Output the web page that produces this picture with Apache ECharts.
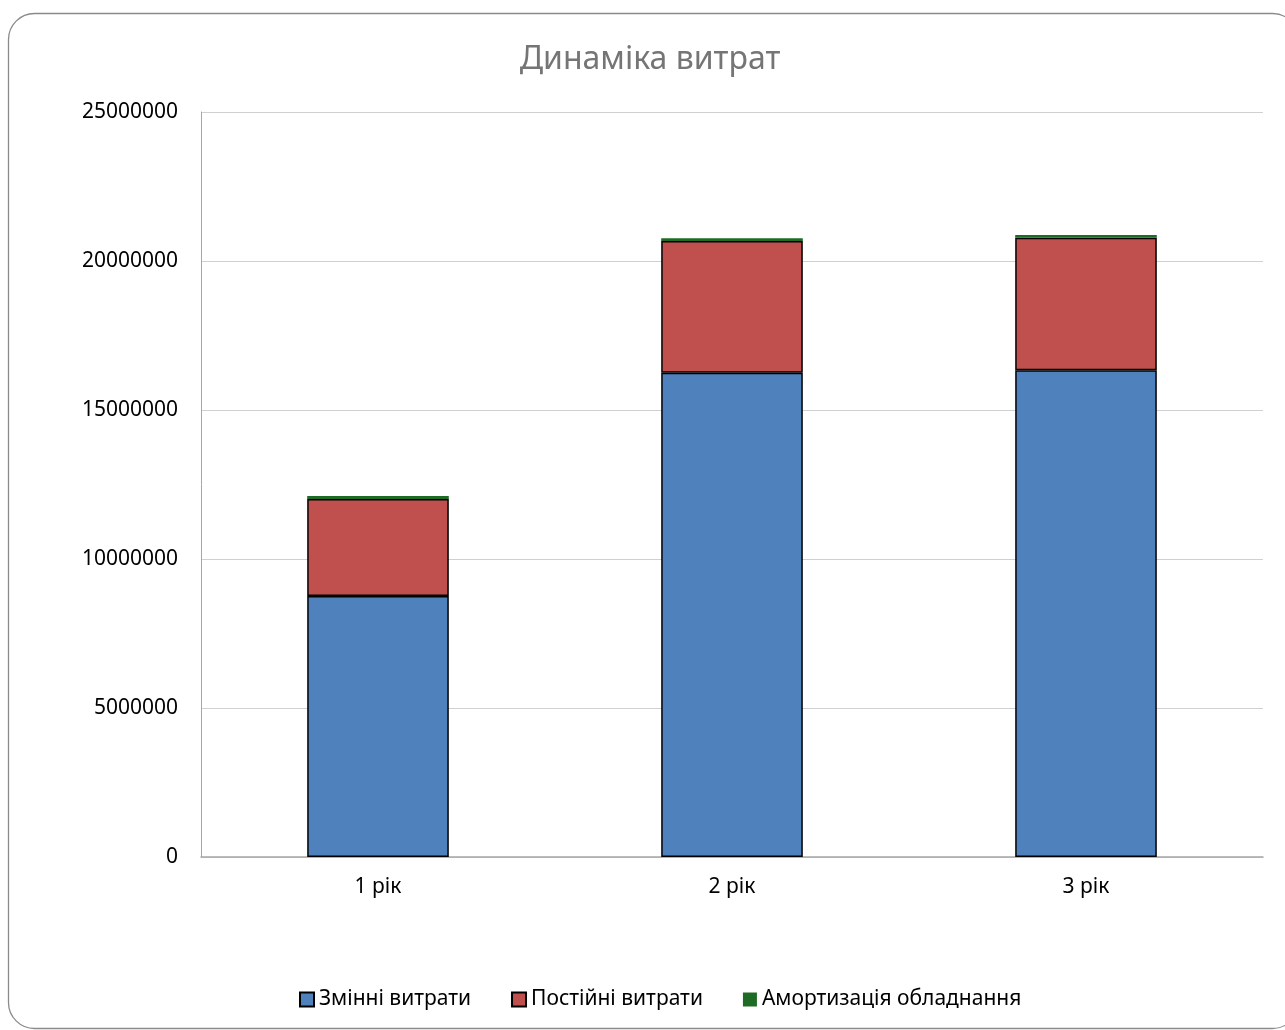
<!DOCTYPE html>
<html>
<head>
<meta charset="utf-8">
<script src="https://cdn.jsdelivr.net/npm/echarts@6/dist/echarts.min.js"></script>
<style>html,body{margin:0;padding:0;background:#fff;}#c{width:1285px;height:1030px;}</style>
</head>
<body>
<div id="c"></div>
<script>
var categories = ['1 рік', '2 рік', '3 рік'];
var seriesNames = ['Змінні витрати', 'Постійні витрати', 'Амортизація обладнання'];
var variableCosts = [8760000, 16250000, 16330000];
var fixedCosts = [3250000, 4420000, 4450000];
var depreciation = [100000, 90000, 90000];
var yTicks = [0, 5000000, 10000000, 15000000, 20000000, 25000000];

var chart = echarts.init(document.getElementById('c'));
var font = '"Noto Sans", "Open Sans", sans-serif';
chart.setOption({
  animation: false,
  backgroundColor: '#fff',
  title: {
    text: 'Динаміка витрат',
    left: 645, top: 39, textAlign: 'center',
    textStyle: { fontFamily: font, fontSize: 32, fontWeight: 'normal', color: '#757575' }
  },
  graphic: [{
    type: 'rect', silent: true, z: -1,
    shape: { x: 8.5, y: 13.5, width: 1290, height: 1015, r: 26 },
    style: { fill: 'none', stroke: '#8a8a8a', lineWidth: 1.3 }
  }],
  legend: {
    bottom: 15, left: 294,
    icon: 'rect', itemWidth: 14, itemHeight: 14, itemGap: 40,
    textStyle: { fontFamily: font, fontSize: 21, color: '#000' },
    data: seriesNames
  },
  grid: { left: 201, right: 22, top: 112, bottom: 173 },
  xAxis: {
    type: 'category', data: categories,
    axisLine: { lineStyle: { color: '#a6a6a6', width: 1.5 } },
    axisTick: { show: false },
    axisLabel: { fontFamily: font, fontSize: 21, color: '#000', margin: 20 }
  },
  yAxis: {
    type: 'value', min: yTicks[0], max: yTicks[yTicks.length - 1], interval: yTicks[1] - yTicks[0],
    axisLine: { show: true, lineStyle: { color: '#a6a6a6', width: 1 } },
    axisTick: { show: false },
    splitLine: { lineStyle: { color: '#d0d0d0', width: 1.2 } },
    axisLabel: { fontFamily: font, fontSize: 21, color: '#000', margin: 23,
      formatter: function (v) { return String(v); } }
  },
  series: [
    { name: seriesNames[0], type: 'bar', stack: 's', data: variableCosts, barWidth: '40%',
      itemStyle: { color: '#4f81bd', borderColor: '#000', borderWidth: 1.5 } },
    { name: seriesNames[1], type: 'bar', stack: 's', data: fixedCosts, barWidth: '40%',
      itemStyle: { color: '#c0504d', borderColor: '#000', borderWidth: 1.5 } },
    { name: seriesNames[2], type: 'bar', stack: 's', data: depreciation, barWidth: '40%',
      itemStyle: { color: '#1e6b24', borderColor: '#1e6b24', borderWidth: 0 } }
  ]
});
</script>
</body>
</html>
